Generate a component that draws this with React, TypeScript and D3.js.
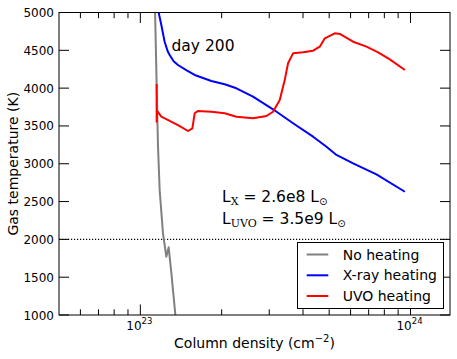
import React from "react";
import * as d3 from "d3";

// Column density (cm^-2) and gas temperature (K) for each model
const noHeatN = [1.131e23, 1.134e23, 1.162e23, 1.179e23, 1.213e23, 1.238e23, 1.248e23, 1.273e23, 1.303e23, 1.348e23, 1.36e23];
const noHeatT = [5264, 5000, 3248, 2653, 2080, 1859, 1771, 1895, 1551, 1000, 800];

const xrayN = [1.16e23, 1.169e23, 1.196e23, 1.23e23, 1.265e23, 1.284e23, 1.328e23, 1.378e23, 1.484e23, 1.589e23, 1.832e23, 2.052e23, 2.268e23, 2.612e23, 3.098e23, 3.675e23, 4.359e23, 4.886e23, 5.32e23, 6.13e23, 7.48e23, 9.53e23];
const xrayT = [5200, 5000, 4835, 4614, 4480, 4438, 4355, 4306, 4235, 4174, 4094, 4051, 3998, 3887, 3720, 3535, 3358, 3225, 3116, 3006, 2860, 2630];

const uvoN = [1.149e23, 1.149e23, 1.154e23, 1.196e23, 1.378e23, 1.501e23, 1.558e23, 1.589e23, 1.634e23, 1.832e23, 2.052e23, 2.268e23, 2.612e23, 2.929e23, 3.098e23, 3.281e23, 3.423e23, 3.521e23, 3.675e23, 4.002e23, 4.359e23, 4.615e23, 4.816e23, 5.244e23, 5.472e23, 6.13e23, 6.87e23, 7.59e23, 8.38e23, 9.53e23];
const uvoT = [4055, 3556, 3698, 3622, 3512, 3433, 3469, 3667, 3698, 3688, 3667, 3622, 3601, 3631, 3688, 3843, 4107, 4328, 4460, 4474, 4495, 4548, 4659, 4725, 4716, 4614, 4548, 4474, 4381, 4240];

const yTicks = [1000, 1500, 2000, 2500, 3000, 3500, 4000, 4500, 5000];
const xMajor = [1e23, 1e24];
const xMajorExp = ["23", "24"];
const xMinor = [6e22, 7e22, 8e22, 9e22, 2e23, 3e23, 4e23, 5e23, 6e23, 7e23, 8e23, 9e23];
const thresholdT = 2000;

const seriesNames = ["No heating", "X-ray heating", "UVO heating"];
const seriesColors = ["#808080", "#0000ff", "#ff0000"];

export default function App() {
  const W = 457, H = 359;
  const L = 59, R = 450, T = 12.5, B = 315;
  const x = d3.scaleLog().domain([5e22, 1.4e24]).range([L, R]);
  const y = d3.scaleLinear().domain([1000, 5000]).range([B, T]);
  const font = "DejaVu Sans, sans-serif";

  const mk = (ns: number[], ts: number[]) =>
    d3.line<number>().x((_, i) => x(ns[i])).y((_, i) => y(ts[i]))(ns.map((_, i) => i)) || "";

  const series = [
    mk(noHeatN, noHeatT),
    mk(xrayN, xrayT),
    mk(uvoN, uvoT),
  ];

  const legendRows = [254.5, 275.3, 296];

  return (
    <svg width={W} height={H} style={{ position: "absolute", left: 0, top: 0 }} fontFamily={font}>
      <defs>
        <clipPath id="plot">
          <rect x={L} y={T} width={R - L} height={B - T} />
        </clipPath>
      </defs>
      <rect width={W} height={H} fill="white" />
      {/* threshold dotted line */}
      <line x1={L} x2={R} y1={y(thresholdT)} y2={y(thresholdT)} stroke="black" strokeWidth={1.2} strokeDasharray="1.2,1.8" />
      <g clipPath="url(#plot)">
        {series.map((d, i) => (
          <path key={i} d={d} fill="none" stroke={seriesColors[i]} strokeWidth={2} strokeLinejoin="round" />
        ))}
      </g>
      {/* frame */}
      <rect x={L} y={T} width={R - L} height={B - T} fill="none" stroke="black" strokeWidth={1} />
      {/* y ticks */}
      {yTicks.map((t) => (
        <g key={t}>
          <line x1={L} x2={L + 10} y1={y(t)} y2={y(t)} stroke="black" />
          <line x1={R} x2={R - 10} y1={y(t)} y2={y(t)} stroke="black" />
          <text x={54} y={y(t) + 4.5} fontSize={12} textAnchor="end">{t}</text>
        </g>
      ))}
      {/* x ticks */}
      {xMajor.map((t, i) => (
        <g key={t}>
          <line x1={x(t)} x2={x(t)} y1={B} y2={B - 10.5} stroke="black" />
          <line x1={x(t)} x2={x(t)} y1={T} y2={T + 10.5} stroke="black" />
          <text x={x(t) - 1} y={330} fontSize={12} textAnchor="middle">
            <tspan>10</tspan>
            <tspan fontSize={8.5} dy={-6}>{xMajorExp[i]}</tspan>
          </text>
        </g>
      ))}
      {xMinor.map((t) => (
        <g key={t}>
          <line x1={x(t)} x2={x(t)} y1={B} y2={B - 5.7} stroke="black" />
          <line x1={x(t)} x2={x(t)} y1={T} y2={T + 5.7} stroke="black" />
        </g>
      ))}
      {/* axis labels */}
      <text x={254.5} y={348} fontSize={14} textAnchor="middle">
        Column density (cm<tspan fontSize={10} dy={-6}>−2</tspan><tspan dy={6}>)</tspan>
      </text>
      <text transform={`translate(18,${(T + B) / 2}) rotate(-90)`} fontSize={14} textAnchor="middle">
        Gas temperature (K)
      </text>
      {/* annotations */}
      <text x={171.5} y={50.5} fontSize={15.5}>day 200</text>
      <text x={222} y={201.7} fontSize={15.5}>
        L<tspan fontFamily="DejaVu Serif, serif" fontSize={11} dy={3}>X</tspan>
        <tspan dy={-3}> = 2.6e8 L</tspan>
        <tspan fontSize={10} dy={3}>⊙</tspan>
      </text>
      <text x={222} y={224} fontSize={15.5}>
        L<tspan fontFamily="DejaVu Serif, serif" fontSize={11} dy={3}>UVO</tspan>
        <tspan dy={-3}> = 3.5e9 L</tspan>
        <tspan fontSize={10} dy={3}>⊙</tspan>
      </text>
      {/* legend */}
      <rect x={297.5} y={242.5} width={146} height={66} fill="white" stroke="black" strokeWidth={1} />
      {seriesNames.map((n, i) => (
        <g key={n}>
          <line x1={306.7} x2={328.3} y1={legendRows[i]} y2={legendRows[i]} stroke={seriesColors[i]} strokeWidth={2} />
          <text x={342.7} y={legendRows[i] + 5} fontSize={14}>{n}</text>
        </g>
      ))}
    </svg>
  );
}
